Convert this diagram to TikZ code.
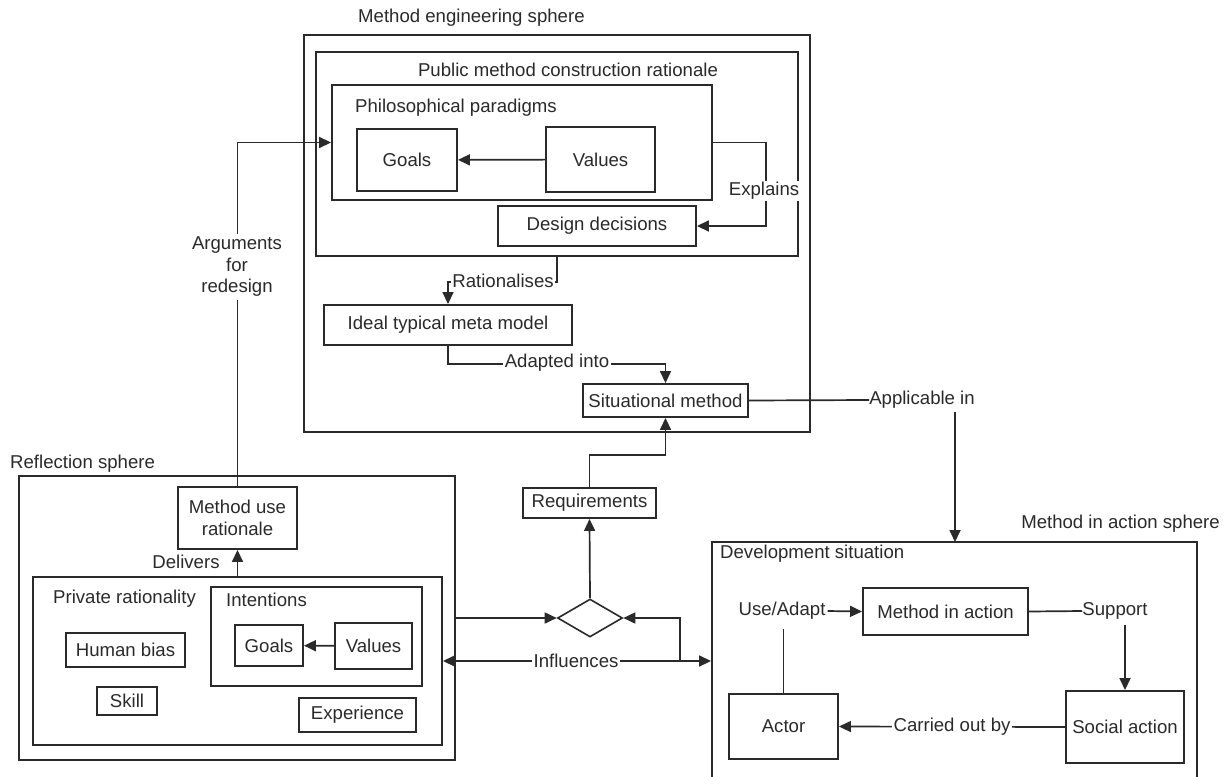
\documentclass[tikz,border=0pt]{standalone}
\usepackage{fontspec}
\setmainfont{Liberation Sans}
\usetikzlibrary{arrows.meta,shapes.geometric}
\definecolor{ink}{HTML}{2A2A2A}
\begin{document}
\begin{tikzpicture}[x=1pt,y=-1pt,
  font=\fontsize{18.6}{21.5}\selectfont, text=ink,
  box/.style 2 args={draw=ink, line width=1.9pt, inner sep=0pt,
    minimum width=#1pt, minimum height=#2pt, align=center},
  lbl/.style={inner sep=0pt},
  elbl/.style={fill=white, inner sep=1.5pt},
  wire/.style={draw=ink, line width=1.7pt},
  arr/.style={wire, -{Triangle[length=12pt,width=11pt]}},
  arrboth/.style={wire, {Triangle[length=12pt,width=11pt]}-{Triangle[length=12pt,width=11pt]}}
]
\clip (0,0) rectangle (1225,776);
\fill[white] (0,0) rectangle (1225,776);

% ---- Method engineering sphere ----
\node[box={506}{397}] (mesph) at (557,233.5) {};
\node[lbl, anchor=west] (meslbl) at (358,18) {Method engineering sphere};
\node[box={482}{204}] (pmcr) at (557,154) {};
\node[lbl] (pmcrlbl) at (568,70) {Public method construction rationale};
\node[box={380}{115}] (phil) at (522,142.5) {};
\node[lbl, anchor=west] (phillbl) at (355,108) {Philosophical paradigms};
\node[box={100}{62}] (goalA) at (407,160) {Goals};
\node[box={109}{65}] (valA) at (600.5,159.5) {Values};
\node[box={198}{40}] (design) at (597,226) {Design decisions};
\node[box={248}{40}] (ideal) at (448,325) {Ideal typical meta model};
\node[box={165}{33}] (sit) at (665.5,400.5) {Situational method};

% ---- Reflection sphere ----
\node[box={436}{284}] (refl) at (237,618) {};
\node[lbl, anchor=west] (refllbl) at (10,464) {Reflection sphere};
\node[box={119}{62}] (mur) at (237.5,518) {Method use\\rationale};
\node[box={409}{168}] (priv) at (237.5,661) {};
\node[lbl, anchor=west] (privlbl) at (53,599) {Private rationality};
\node[box={211}{99}] (intent) at (316.5,636.5) {};
\node[lbl, anchor=west] (intentlbl) at (226,600) {Intentions};
\node[box={68}{41}] (goalB) at (269,645.5) {Goals};
\node[box={77}{46}] (valB) at (373.5,646) {Values};
\node[box={119}{34}] (bias) at (125.5,650) {Human bias};
\node[box={60}{28}] (skill) at (127,701) {Skill};
\node[box={117}{34}] (exper) at (357.5,715) {Experience};

% ---- Requirements and decision ----
\node[box={133}{30}] (req) at (589.5,503) {Requirements};
\node[draw=ink, line width=1.6pt, shape=diamond, inner sep=0pt,
      minimum width=65pt, minimum height=38pt] (dia) at (590,618) {};

% ---- Method in action sphere ----
\node[lbl, anchor=east] (mialbl) at (1220,524) {Method in action sphere};
\node[box={485}{256}] (dev) at (954.5,670) {};
\node[lbl, anchor=west] (devlbl) at (720,554) {Development situation};
\node[box={165}{47}] (mia) at (945.5,611.5) {Method in action};
\node[box={109}{65}] (actor) at (783.5,726.5) {Actor};
\node[box={118}{72}] (soc) at (1125,727) {Social action};

% ---- connectors inside method engineering ----
\draw[arr] (valA) -- (goalA);
\draw[arr] (phil.east) -- ++(53,0) |- (design.east);
\node[elbl] (explbl) at (764,191) {Explains};
\draw[arr] (pmcr.south) -- ++(0,25) -| (ideal.north);
\node[elbl] (ratlbl) at (503,281) {Rationalises};
\draw[arr] (ideal.south) -- ++(0,18) -| (sit.north);
\node[elbl] (adlbl) at (557,363) {Adapted into};

% ---- reflection connectors ----
\draw[arr] (mur.north) -- (mur.north |- phil.west) -- (phil.west);
\node[elbl, align=center, inner sep=3pt] (arglbl) at (237,267) {Arguments\\for\\redesign};
\draw[arr] (priv.north) -- (mur.south);
\node[lbl] (dellbl) at (186,562) {Delivers};
\draw[arr] (valB) -- (goalB);

% ---- requirements path ----
\draw[arr] (refl.east) -- (dia.west);
\draw[arr] (dia.north) -- (req.south);
\draw[arr] (req.north) -- ++(0,-32) -| (sit.south);
\coordinate (branch) at (680,661);
\draw[arrboth] (priv.east) -- (priv.east -| dev.west);
\draw[arr] (branch) |- (dia.east);
\node[elbl] (inflbl) at (576,661) {Influences};

% ---- applicability ----
\node[lbl] (appl) at (922,400) {Applicable in};
\coordinate (appin) at (955,542);
\draw[wire] (sit.east) -- (appl.west);
\draw[arr] (appl.south -| appin) ++(0,3) -- (appin);

% ---- method in action ----
\node[lbl] (use) at (782,611) {Use/Adapt};
\draw[arr] (use.east) ++(2,0) -- (mia.west);
\draw[wire] (actor.north) -- ++(0,-64);
\node[lbl] (sup) at (1115,611) {Support};
\draw[wire] (mia.east) -- (sup.west);
\draw[arr] (sup.south -| soc.north) ++(0,5) -- (soc.north);
\draw[arr] (soc.west) -- (actor.east);
\node[elbl] (carlbl) at (952,727) {Carried out by};
\end{tikzpicture}
\end{document}
